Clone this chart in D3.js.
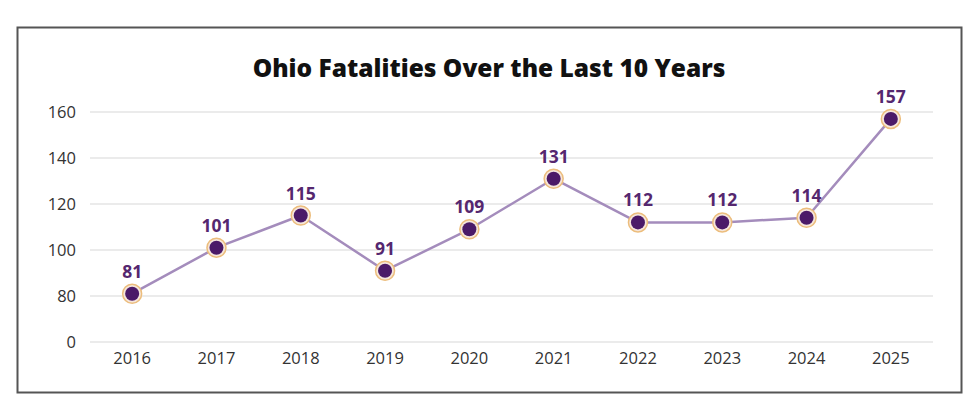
<!DOCTYPE html>
<html>
<head>
<meta charset="utf-8">
<script src="https://cdn.jsdelivr.net/npm/d3@7"></script>
<style>
  body { margin: 0; background: #fff; }
  svg { display: block; font-family: "Open Sans", sans-serif; }
</style>
</head>
<body>
<svg id="chart" width="980" height="417"></svg>
<script>
var years = ["2016", "2017", "2018", "2019", "2020", "2021", "2022", "2023", "2024", "2025"];
var fatalities = [81, 101, 115, 91, 109, 131, 112, 112, 114, 157];
var yTicks = [60, 80, 100, 120, 140, 160];
var yTickLabels = ["0", "80", "100", "120", "140", "160"];
var title = "Ohio Fatalities Over the Last 10 Years";

var svg = d3.select("#chart"),
  margin = { top: 112, right: 47, bottom: 75, left: 90 },
  width = +svg.attr("width") - margin.left - margin.right,
  height = +svg.attr("height") - margin.top - margin.bottom;

// outer frame
svg.append("rect")
  .attr("x", 17.5).attr("y", 27.5)
  .attr("width", 944).attr("height", 365)
  .attr("fill", "#fff")
  .attr("stroke", "#555")
  .attr("stroke-width", 2);

svg.append("text")
  .attr("x", 489).attr("y", 77)
  .attr("text-anchor", "middle")
  .attr("font-size", 24.5)
  .attr("font-weight", 800)
  .attr("fill", "#111")
  .attr("letter-spacing", 0)
  .text(title);

var g = svg.append("g").attr("transform", "translate(" + margin.left + "," + margin.top + ")");

var x = d3.scaleBand().domain(years).range([0, width]);
var y = d3.scaleLinear().domain([60, 160]).range([height, 0]);

// gridlines
g.append("g")
  .selectAll("line")
  .data(yTicks)
  .enter().append("line")
    .attr("x1", 0).attr("x2", width)
    .attr("y1", d => y(d)).attr("y2", d => y(d))
    .attr("stroke", "#e4e4e4")
    .attr("stroke-width", 1.5);

var yAxis = g.append("g")
  .call(d3.axisLeft(y)
    .tickValues(yTicks)
    .tickSize(0)
    .tickPadding(14)
    .tickFormat((d, i) => yTickLabels[i]));
yAxis.select(".domain").remove();
yAxis.selectAll("text")
  .attr("font-size", 16.5)
  .attr("font-family", "Open Sans, sans-serif")
  .attr("fill", "#333");

var xAxis = g.append("g")
  .attr("transform", `translate(0,${height})`)
  .call(d3.axisBottom(x).tickSize(0).tickPadding(10));
xAxis.select(".domain").remove();
xAxis.selectAll("text")
  .attr("font-size", 16.5)
  .attr("font-family", "Open Sans, sans-serif")
  .attr("fill", "#333");

var data = years.map((d, i) => ({ year: d, value: fatalities[i] }));
var cx = d => x(d.year) + x.bandwidth() / 2;

var line = d3.line()
  .x(cx)
  .y(d => y(d.value));

g.append("path")
  .attr("fill", "none")
  .attr("stroke", "#a48cbc")
  .attr("stroke-width", 2.5)
  .attr("stroke-linejoin", "round")
  .attr("d", line(data));

var pts = g.selectAll(".pt")
  .data(data)
  .enter().append("g")
    .attr("class", "pt")
    .attr("transform", d => `translate(${cx(d)},${y(d.value)})`);

pts.append("circle")
  .attr("r", 9.5)
  .attr("fill", "#f5e6dc")
  .attr("stroke", "#ecbd7c")
  .attr("stroke-width", 1.5);

pts.append("circle")
  .attr("r", 7)
  .attr("fill", "#4b1a68");

pts.append("text")
  .attr("y", -16)
  .attr("text-anchor", "middle")
  .attr("font-size", 17.5)
  .attr("font-weight", 700)
  .attr("fill", "#55276f")
  .text(d => d.value);
</script>
</body>
</html>
